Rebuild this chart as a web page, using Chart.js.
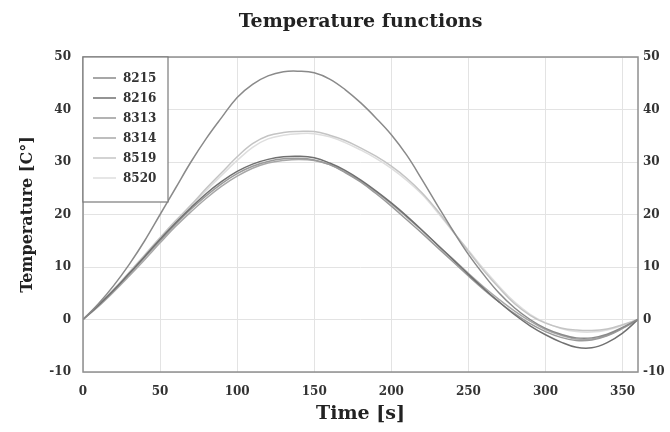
<!DOCTYPE html>
<html>
<head>
<meta charset="utf-8">
<script src="https://cdn.jsdelivr.net/npm/chart.js@4/dist/chart.umd.min.js"></script>
<style>
html,body{margin:0;padding:0;background:#fff;}
#wrap{width:670px;height:432px;position:relative;}
</style>
</head>
<body>
<div id="wrap"><canvas id="c" width="670" height="432"></canvas></div>
<script>
const times = [0,10,20,30,40,50,60,70,80,90,100,110,120,130,140,150,160,170,180,190,200,210,220,230,240,250,260,270,280,290,300,310,320,330,340,350,360];
const seriesLabels = ["8215","8216","8313","8314","8519","8520"];
const s8215 = [0,3,6.5,10.5,15,20,25,30,34.5,38.5,42.3,44.8,46.4,47.2,47.3,47,45.8,43.8,41.3,38.4,35.2,31.3,26.6,21.7,16.9,12.4,8.5,5,2.2,0,-1.7,-2.8,-3.5,-3.5,-2.8,-1.5,0];
const s8216 = [0,2.7,5.6,8.8,12,15.3,18.4,21.3,24,26.3,28.2,29.6,30.5,31,31.1,30.8,29.8,28.4,26.6,24.5,22.2,19.7,17,14.2,11.4,8.6,5.9,3.3,0.9,-1.2,-2.9,-4.3,-5.3,-5.4,-4.4,-2.6,0];
const s8313 = [0,2.6,5.5,8.6,11.8,15,18.1,21,23.6,25.9,27.8,29.2,30.1,30.6,30.7,30.4,29.5,28,26.2,24,21.6,19,16.4,13.7,11,8.3,5.7,3.3,1.1,-0.8,-2.3,-3.4,-4,-3.9,-3.1,-1.7,0];
const s8314 = [0,2.5,5.3,8.3,11.4,14.6,17.7,20.5,23.1,25.4,27.3,28.8,29.8,30.3,30.5,30.3,29.5,28.1,26.4,24.3,22,19.5,16.9,14.2,11.5,8.8,6.2,3.8,1.6,-0.3,-1.9,-3,-3.7,-3.7,-3,-1.6,0];
const s8519 = [0,2.8,5.8,9,12.3,15.6,18.8,21.8,25,28,31,33.5,35,35.6,35.8,35.8,35.1,34.1,32.7,31.1,29.2,26.9,24.1,20.7,16.8,13,9.3,6,3,0.8,-0.7,-1.6,-2,-2.1,-1.8,-1,0];
const s8520 = [0,2.7,5.7,8.9,12.1,15.4,18.6,21.6,24.6,27.5,30.3,32.8,34.4,35.1,35.4,35.4,34.8,33.7,32.3,30.7,28.8,26.5,23.8,20.4,16.7,13.2,9.6,6.3,3.3,1,-0.6,-1.7,-2.3,-2.4,-2,-1.1,0];
const xTicks = [0,50,100,150,200,250,300,350];
const yTicks = [-10,0,10,20,30,40,50];

const colors = ["#8a8a8a","#707070","#9a9a9a","#a8a8a8","#c4c4c4","#dedede"];
const allSeries = [s8215,s8216,s8313,s8314,s8519,s8520];

const datasets = allSeries.map((s,i)=>({
  label: seriesLabels[i],
  data: s.map((v,j)=>({x:times[j], y:v})),
  borderColor: colors[i],
  backgroundColor: colors[i],
  borderWidth: 1.5,
  pointRadius: 0,
  fill: false,
  tension: 0.4,
  yAxisID: 'y'
}));
datasets.push({label:'_r', data:[{x:0,y:0}], yAxisID:'y2', showLine:false, pointRadius:0, borderWidth:0});

const serif = "'DejaVu Serif', 'Liberation Serif', serif";

const framePlugin = {
  id: 'frame',
  afterDatasetsDraw(chart) {
    const {ctx, chartArea:a} = chart;
    ctx.save();
    ctx.strokeStyle = '#8f8f8f';
    ctx.lineWidth = 1.5;
    ctx.strokeRect(a.left, a.top, a.right - a.left, a.bottom - a.top);
    const bx = a.left, by = a.top, bw = 85, bh = 145;
    ctx.fillStyle = '#fff';
    ctx.fillRect(bx, by, bw, bh);
    ctx.lineWidth = 1.2;
    ctx.strokeStyle = '#7a7a7a';
    ctx.strokeRect(bx, by, bw, bh);
    ctx.font = "bold 12px " + serif;
    ctx.textBaseline = 'middle';
    ctx.textAlign = 'left';
    seriesLabels.forEach((lab,i)=>{
      const yy = by + 21 + i*20;
      ctx.strokeStyle = colors[i];
      ctx.lineWidth = 1.5;
      ctx.beginPath(); ctx.moveTo(bx+10, yy); ctx.lineTo(bx+33, yy); ctx.stroke();
      ctx.fillStyle = '#333';
      ctx.fillText(lab, bx+40, yy+1);
    });
    ctx.restore();
  }
};

new Chart(document.getElementById('c'), {
  type: 'line',
  data: { datasets },
  options: {
    responsive: false,
    animation: false,
    layout: { padding: { left: 0, right: 0, top: 0, bottom: 0 } },
    plugins: {
      legend: { display: false },
      tooltip: { enabled: false },
      title: {
        display: true,
        fullSize: false,
        text: 'Temperature functions',
        color: '#222',
        font: { family: serif, size: 19, weight: 'bold', lineHeight: 1.2 },
        padding: { top: 11, bottom: 23.2 }
      }
    },
    scales: {
      x: {
        type: 'linear', min: 0, max: 360,
        afterBuildTicks: (sc) => { sc.ticks = xTicks.map(v=>({value:v})); },
        afterFit: (sc) => { sc.height = 60; },
        grid: { color: '#e3e3e3', lineWidth: 1, drawTicks: false },
        border: { display: false },
        ticks: { color: '#333', padding: 13, font: { family: serif, size: 12, weight: 'bold' } },
        title: { display: true, text: 'Time [s]', color: '#222', padding: { top: 1, bottom: 7 }, font: { family: serif, size: 19, weight: 'bold' } }
      },
      y: {
        type: 'linear', position: 'left', min: -10, max: 50,
        afterBuildTicks: (sc) => { sc.ticks = yTicks.map(v=>({value:v})); },
        afterFit: (sc) => { sc.width = 83; },
        grid: { color: '#e3e3e3', lineWidth: 1, drawTicks: false },
        border: { display: false },
        ticks: { color: '#333', padding: 12, font: { family: serif, size: 12, weight: 'bold' } },
        title: { display: true, text: 'Temperature [C°]', color: '#222', padding: { top: 18, bottom: 6 }, font: { family: serif, size: 16, weight: 'bold' } }
      },
      y2: {
        type: 'linear', position: 'right', min: -10, max: 50,
        afterBuildTicks: (sc) => { sc.ticks = yTicks.map(v=>({value:v})); },
        afterFit: (sc) => { sc.width = 32; },
        grid: { display: false, drawTicks: false },
        border: { display: false },
        ticks: { color: '#333', padding: 5, font: { family: serif, size: 12, weight: 'bold' } }
      }
    }
  },
  plugins: [framePlugin]
});
</script>
</body>
</html>
